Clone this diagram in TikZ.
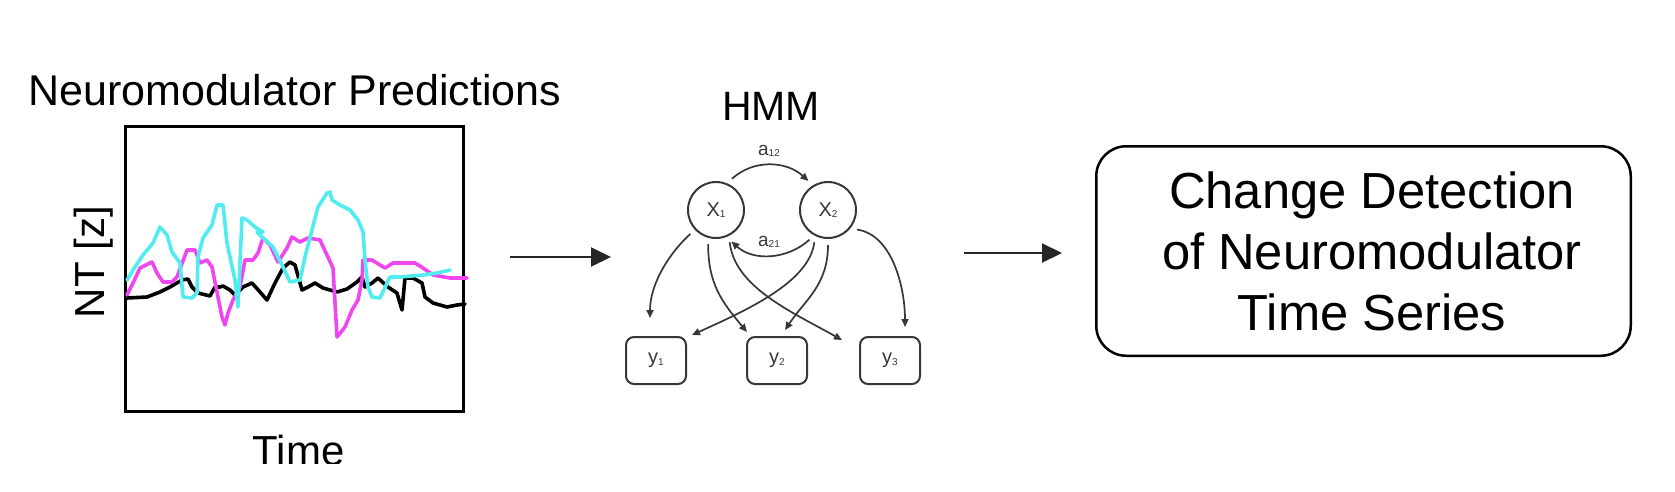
\documentclass[tikz,border=0pt]{standalone}
\usepackage{fontspec}
\setmainfont{Liberation Sans}
\usetikzlibrary{arrows.meta}
\definecolor{cyanc}{RGB}{80,236,240}
\definecolor{magc}{RGB}{240,70,240}
\definecolor{hmmgray}{RGB}{55,55,55}
\newcommand{\mysub}[1]{\raisebox{-1.5pt}{\fontsize{10}{12}\selectfont #1}}
\begin{document}
\begin{tikzpicture}[x=1pt,y=-1pt,
  bigtext/.style={inner sep=0pt, font=\fontsize{42}{50}\selectfont},
  statenode/.style={circle, draw=hmmgray, line width=2pt, minimum size=56pt, inner sep=0pt, outer sep=7pt, font=\fontsize{20}{24}\selectfont, text=hmmgray},
  obsnode/.style={rectangle, rounded corners=8pt, draw=hmmgray, line width=2pt, minimum width=60pt, minimum height=47pt, inner sep=0pt, font=\fontsize{20}{24}\selectfont, text=hmmgray},
  emit/.style={draw=hmmgray, line width=1.7pt, -{Triangle[length=8pt,width=7pt]}},
  translbl/.style={inner sep=0pt, font=\fontsize{19}{23}\selectfont, text=hmmgray},
  bigarrow/.style={draw=black!85, line width=2pt, -{Triangle[length=20pt,width=19pt]}},
  trace/.style={line width=3.6pt, line join=round, line cap=round}
]
\useasboundingbox (0,0) rectangle (1675,491);

% ---- left panel ----
\node[bigtext, anchor=base west, font=\fontsize{43}{50}\selectfont] (title) at (28,105) {Neuromodulator Predictions};
\node[draw, line width=3.2pt, minimum width=338pt, minimum height=285pt, inner sep=0pt] (plot) at (294.5,269) {};
\node[bigtext, rotate=90] (ylab) at (94,262) {NT [z]};
\begin{scope}
\clip (0,0) rectangle (1675,463);
\node[bigtext, anchor=base] (xlab) at (298.5,465) {Time};
\end{scope}

\draw[trace, black] plot[sharp plot] coordinates {(127,298) (147,297) (160,292) (170,287) (182,280) (188,279) (192,287) (198,293) (210,296) (215,287) (220,287) (223,286) (230,290) (235,295) (243,287) (252,283) (260,292) (267,300) (275,283) (283,268) (290,262) (295,265) (302,290) (308,287) (315,283) (323,288) (337,292) (347,289) (357,282) (362,277) (365,287) (372,283) (378,278) (388,287) (397,293) (402,310) (405,278) (413,278) (422,283) (425,297) (433,303) (447,307) (457,305) (465,304)};
\draw[trace, magc] plot[sharp plot] coordinates {(127,295) (133,283) (140,268) (152,262) (157,273) (163,282) (172,282) (177,277) (187,250) (195,250) (200,263) (207,260) (212,267) (218,297) (222,317) (225,325) (228,313) (233,300) (240,287) (245,260) (253,260) (258,253) (263,238) (270,245) (278,262) (287,248) (292,237) (300,242) (308,238) (320,240) (333,268) (337,337) (345,327) (352,310) (358,300) (362,280) (363,260) (372,260) (385,268) (393,263) (415,263) (423,268) (433,275) (450,278) (467,278)};
\draw[trace, cyanc] plot[sharp plot] coordinates {(127,280) (133,270) (143,255) (153,243) (160,227) (167,235) (172,252) (180,263) (183,297) (192,298) (197,293) (198,257) (203,238) (212,225) (217,205) (223,205) (227,243) (235,280) (238,307) (242,218) (247,220) (255,227) (263,232) (257,232) (263,238) (273,247) (283,267) (290,282) (300,280) (305,257) (312,230) (318,207) (327,193) (330,192) (332,200) (340,205) (350,210) (358,220) (363,232) (365,260) (368,287) (372,297) (380,298) (390,277) (400,277) (423,275) (437,273) (450,270)};

% ---- arrow 1 ----
\coordinate (a1s) at (510,257);
\coordinate (a1e) at (611,257);
\draw[bigarrow] (a1s) -- (a1e);

% ---- HMM ----
\node[bigtext, anchor=base, font=\fontsize{41}{50}\selectfont] (hmm) at (771,120) {HMM};
\node[statenode] (X1) at (716,210) {X\mysub{1}};
\node[statenode] (X2) at (828,210) {X\mysub{2}};
\node[obsnode] (y1) at (656,360.5) {y\mysub{1}};
\node[obsnode] (y2) at (777,360.5) {y\mysub{2}};
\node[obsnode] (y3) at (890,360.5) {y\mysub{3}};
\node[translbl] (a12) at (769,151) {a\mysub{12}};
\node[translbl] (a21) at (769,242) {a\mysub{21}};

\draw[emit] (X1.63) .. controls +(22,-20) and +(-22,-20) .. (X2.124);
\draw[emit] (X2.238) .. controls +(-22,20) and +(22,20) .. (X1.296);

\draw[emit] (X1.223) .. controls +(-20,18) and +(0,-35) .. ([xshift=-6pt,yshift=18pt]y1.north);
\draw[emit] (X1.257) .. controls +(0,40) and +(-25,-30) .. ([xshift=1pt,yshift=4pt]y2.north west);
\draw[emit] (X1.293) .. controls +(5,45) and +(-50,-28) .. ([xshift=-17pt,yshift=-4pt]y3.north west);
\draw[emit] (X2.247) .. controls +(-5,40) and +(55,-25) .. ([xshift=5pt,yshift=1pt]y1.north east);
\draw[emit] (X2.270) .. controls +(0,40) and +(20,-30) .. ([xshift=8pt,yshift=6pt]y2.north);
\draw[emit] (X2.326) .. controls +(35,5) and +(0,-40) .. ([xshift=15pt,yshift=9pt]y3.north);

% ---- right box ----
\node[draw, line width=2.5pt, rounded corners=30pt, minimum width=534.5pt, minimum height=209.5pt, inner sep=0pt] (cd) at (1363.5,251) {};
\node[align=center, inner sep=0pt, font=\fontsize{50.7}{61}\selectfont] (cdtext) at (1372,251.5) {Change Detection\\of Neuromodulator\\Time Series};

\coordinate (a2s) at (964,253);
\draw[bigarrow] (a2s) -- ([xshift=-33pt,yshift=-2pt]cd.west);
\end{tikzpicture}
\end{document}
